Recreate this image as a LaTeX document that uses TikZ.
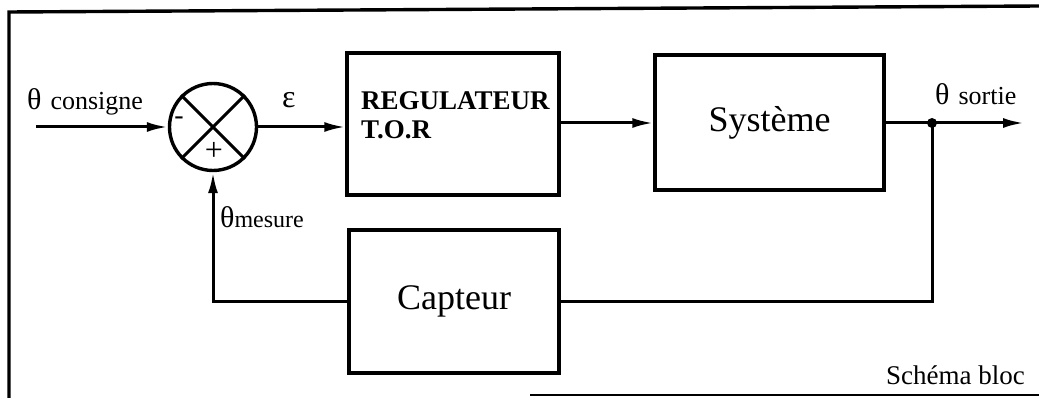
\documentclass[tikz,border=0pt]{standalone}
\usepackage{fontspec}
\setmainfont{Liberation Serif}
\usetikzlibrary{arrows.meta}
\begin{document}
\begin{tikzpicture}[x=1pt,y=-1pt,
  blk/.style={draw, line width=3.4pt, inner sep=0pt},
  wire/.style={line width=3pt},
  conn/.style={wire, -{Latex[length=21pt,width=10pt]}},
  lbl/.style={inner sep=0pt, anchor=base west},
  big/.style={font=\fontsize{36}{36}\selectfont},
]
\useasboundingbox (0,0) rectangle (1039,398);
% frame
\draw[line width=3.4pt] (9,398) -- (9,12) -- (1039,6);
\draw[line width=2.2pt] (530,395) -- (1039,395);
% blocks
\node[blk, circle, minimum size=87pt] (sum) at (213,127) {};
\draw[line width=3pt] (sum.45) -- (sum.225) (sum.135) -- (sum.315);
\node[inner sep=0pt, font=\fontsize{28}{28}\selectfont] (minus) at (179,121) {-};
\node[inner sep=0pt, font=\fontsize{32}{32}\selectfont] (plus) at (214,151) {+};
\node[blk, minimum width=212pt, minimum height=142pt] (reg) at (453,124) {};
\node[inner sep=0pt, anchor=base west, align=left, font=\fontsize{27}{29}\selectfont\bfseries] (regtxt) at (361,139) {REGULATEUR\\T.O.R};
\node[blk, big, minimum width=229pt, minimum height=135pt] (sys) at (769.5,122.5) {Système};
\node[blk, big, minimum width=210pt, minimum height=143pt] (cap) at (454,301.5) {Capteur};
% connectors
\coordinate (in) at (36,127);
\coordinate (out) at (1024,123);
\coordinate (br) at (932,123);
\draw[conn] (in) -- (sum.west);
\draw[conn] (sum.east) -- (sum.east -| reg.west);
\draw[conn] (reg.east |- br) -- (sys.west |- br);
\draw[conn] (sys.east |- br) -- (out);
\fill (br) circle (5pt);
\draw[wire] (br) |- (cap.east);
\draw[conn] (cap.west) -| (sum.south);
% labels
\node[lbl] (lcons) at (27,110) {{\fontsize{30}{30}\selectfont θ}\hspace{9pt}{\fontsize{26}{26}\selectfont consigne}};
\node[lbl] (leps) at (282,108) {\fontsize{32}{32}\selectfont ε};
\node[lbl] (lsort) at (935,105) {{\fontsize{30}{30}\selectfont θ}\hspace{9pt}{\fontsize{26}{26}\selectfont sortie}};
\node[lbl] (lmes) at (220,228) {{\fontsize{30}{30}\selectfont θ}{\fontsize{24}{24}\selectfont mesure}};
\node[lbl] (lschema) at (886,384) {\fontsize{27}{27}\selectfont Schéma bloc};
\end{tikzpicture}
\end{document}
